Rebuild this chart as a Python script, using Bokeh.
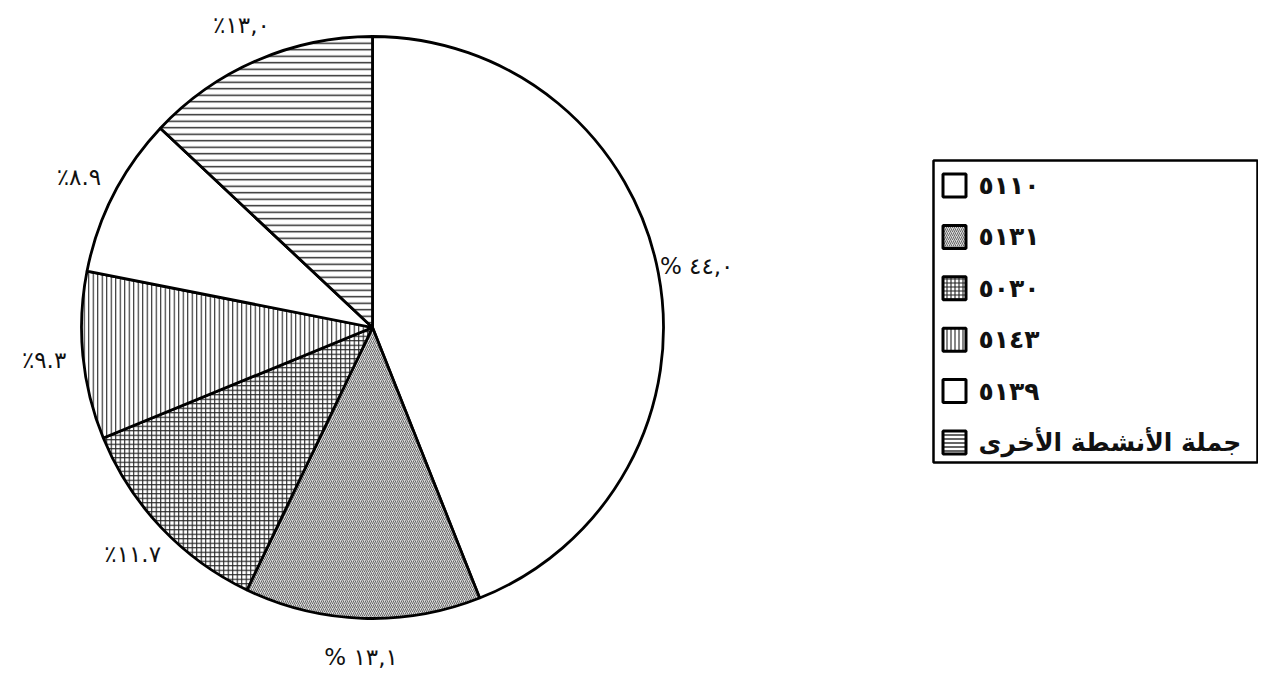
import math
from bokeh.plotting import figure
from bokeh.models import Range1d, ColumnDataSource
from bokeh.core.properties import value
from bokeh.embed import file_html
from bokeh.resources import INLINE

# ---- data ----
codes = ["٥١١٠", "٥١٣١", "٥٠٣٠", "٥١٤٣", "٥١٣٩", "جملة الأنشطة الأخرى"]
shares = [44.0, 13.1, 11.7, 9.3, 8.9, 13.0]
pct_labels = ["% ٤٤,٠", "% ١٣,١", "٪١١.٧", "٪٩.٣", "٪٨.٩", "٪١٣,٠"]

# ---- styles ----
fill_colors = ["white", "#dadada", "white", "white", "white", "white"]
hatch_patterns = [" ", "/", "+", "|", " ", "-"]
hatch_colors = ["#222222", "#5a5a5a", "#222222", "#222222", "#222222", "#222222"]
hatch_scales = [6, 4, 4.5, 4.5, 6, 6.5]
hatch_weights = [1, 0.9, 1.1, 1.1, 1, 1.4]

W, H = 1258, 673
PAGE_H = 689
p = figure(width=W, height=H, output_backend="svg", toolbar_location=None,
           x_range=Range1d(8, 8 + W), y_range=Range1d(PAGE_H - 8 - H, PAGE_H - 8),
           x_axis_location=None, y_axis_location=None, min_border=0)
p.grid.visible = False
p.outline_line_color = None
p.background_fill_color = "white"

# pie geometry
cx, cy, r = 380, PAGE_H - 335, 291
total = sum(shares)
starts, ends, mids = [], [], []
a = math.pi / 2
for s in shares:
    span = 2 * math.pi * s / total
    starts.append(a)
    ends.append(a - span)
    mids.append(a - span / 2)
    a -= span

src = ColumnDataSource(dict(
    x=[cx] * len(shares), y=[cy] * len(shares),
    start=starts, end=ends, fill=fill_colors, hatch=hatch_patterns, hcolor=hatch_colors,
    hscale=hatch_scales, hweight=hatch_weights))
p.wedge(x="x", y="y", radius=r, start_angle="start", end_angle="end",
        direction="clock", source=src, fill_color="fill", hatch_pattern="hatch",
        hatch_scale="hscale", hatch_weight="hweight", hatch_color="hcolor",
        line_color="black", line_width=2.8)

# labels
lr = 330
lx = [cx + lr * math.cos(m) for m in mids]
ly = [cy + lr * math.sin(m) for m in mids]
p.text(x=lx, y=ly, text=pct_labels, text_align="center", text_baseline="middle",
       text_font=value("DejaVu Sans"), text_font_size="23px", text_color="#111111")

# legend
lg_left, lg_right, lg_top, lg_bottom = 941, 1265, PAGE_H - 168, PAGE_H - 470
p.quad(left=[lg_left], right=[lg_right], top=[lg_top], bottom=[lg_bottom],
       fill_color="white", line_color="black", line_width=2.5)
row_y = [lg_top - 25 - i * 51.4 for i in range(len(codes))]
icon_x = [962] * len(codes)
leg_src = ColumnDataSource(dict(x=icon_x, y=row_y, fill=fill_colors, hatch=hatch_patterns,
                                hcolor=hatch_colors,
                                hscale=[min(h, 4) for h in hatch_scales], hweight=hatch_weights))
p.rect(x="x", y="y", width=23, height=23, source=leg_src, fill_color="fill",
       hatch_pattern="hatch", hatch_scale="hscale", hatch_weight="hweight",
       hatch_color="hcolor", line_color="black", line_width=3)
p.text(x=[986] * len(codes), y=row_y, text=codes, text_align="left", text_baseline="middle",
       text_font=value("DejaVu Sans"), text_font_size="25px", text_font_style="bold",
       text_color="#111111")

open("out.html", "w").write(file_html(p, INLINE))
